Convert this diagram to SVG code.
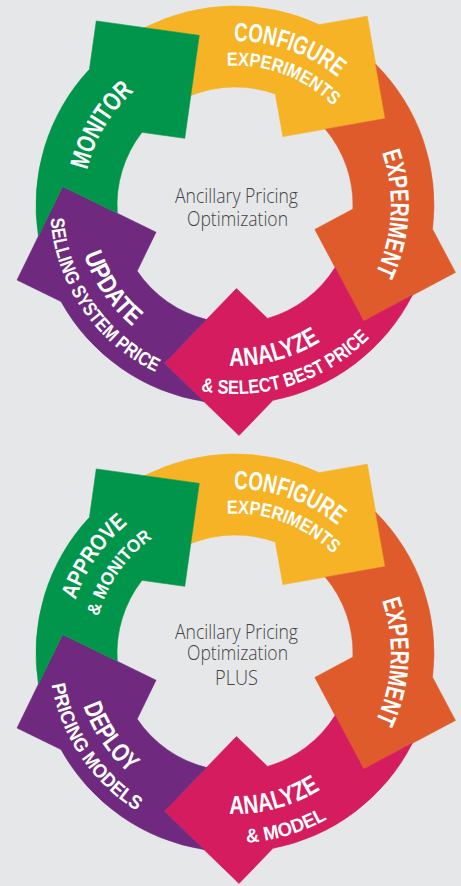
<svg xmlns="http://www.w3.org/2000/svg" xmlns:xlink="http://www.w3.org/1999/xlink" width="461" height="886" viewBox="0 0 461 886">
<style>
.bg{fill:#E6E7E8}
.seg{stroke-width:0.6;stroke-linejoin:round}
.yel{fill:#F5B325;stroke:#F5B325}
.org{fill:#E05B2B;stroke:#E05B2B}
.mag{fill:#D41C5E;stroke:#D41C5E}
.pur{fill:#6F2A7F;stroke:#6F2A7F}
.grn{fill:#00954A;stroke:#00954A}
.lbl{font-family:"Liberation Sans",Arial,sans-serif;font-weight:bold;fill:#FFFFFF}
.ctr{font-family:"Open Sans","Liberation Sans",sans-serif;font-weight:300;fill:#444446;text-anchor:middle;font-size:19.5px}
</style>
<defs>
<path id="p-conf" d="M -127.08 -103.64 A 164 164 0 0 1 163.98 -2.29"/>
<path id="p-exps" d="M -105.75 -90.97 A 139.5 139.5 0 0 1 139.49 1.71"/>
<path id="p-exp" d="M 61.20 -143.49 A 156 156 0 0 1 45.35 149.26"/>
<path id="p-ana" d="M -131.88 92.35 A 161 161 0 0 0 160.38 14.03"/>
<path id="p-sel" d="M -149.95 115.06 A 189 189 0 0 0 188.82 8.25"/>
<path id="p-upd" d="M -128.63 -93.46 A 159 159 0 0 0 38.47 154.28"/>
<path id="p-sell" d="M -150.43 -107.69 A 185 185 0 0 0 46.01 179.19"/>
<path id="p-mon" d="M -117.78 96.06 A 152 152 0 0 1 28.48 -149.31"/>
<path id="p-mod" d="M -153.22 112.35 A 190 190 0 0 0 189.60 12.43"/>
<path id="p-app" d="M -136.52 97.93 A 168 168 0 0 1 41.63 -162.76"/>
<path id="p-amon" d="M -115.33 81.97 A 141.5 141.5 0 0 1 35.67 -136.93"/>
<path id="p-dep" d="M -129.68 -94.56 A 160.5 160.5 0 0 0 38.55 155.80"/>
<path id="p-pm" d="M -150.29 -109.59 A 186 186 0 0 0 44.68 180.55"/>
<path id="s-yel" transform="rotate(-1)" d="M -87.24 -178.86 A 199 199 0 0 1 87.24 -178.86 L 135.49 -186.47 L 151.75 -83.80 L 49.08 -67.55 L 42.29 -110.16 A 118 118 0 0 0 -42.29 -110.16 L -32.81 -170.21 Z"/>
<path id="s-org" transform="rotate(-1)" d="M 143.14 -138.25 A 199 199 0 0 1 197.07 27.70 L 219.23 71.22 L 126.60 118.41 L 79.42 25.80 L 117.83 6.17 A 118 118 0 0 0 91.70 -74.26 L 151.75 -83.80 Z"/>
<path id="s-mag" transform="rotate(-1)" d="M 175.70 93.43 A 199 199 0 0 1 34.55 195.98 L 0 230.5 L -73.52 156.99 L 0 83.5 L 30.54 113.98 A 118 118 0 0 0 98.97 64.26 L 126.60 118.41 Z"/>
<path id="s-pur" transform="rotate(-1)" d="M -34.55 195.98 A 199 199 0 0 1 -175.70 93.43 L -219.23 71.22 L -172.03 -21.39 L -79.42 25.80 L -98.97 64.26 A 118 118 0 0 0 -30.54 113.98 L -73.52 156.99 Z"/>
<path id="s-grn" transform="rotate(-1)" d="M -197.07 27.70 A 199 199 0 0 1 -143.14 -138.25 L -135.49 -186.47 L -32.81 -170.21 L -49.08 -67.55 L -91.70 -74.26 A 118 118 0 0 0 -117.83 6.17 L -172.03 -21.39 Z"/>
</defs>
<rect class="bg" x="0" y="0" width="461" height="886"/>

<g id="cycle-1" transform="translate(235,205)">
  <g id="node-configure-1">
    <use href="#s-yel" class="seg yel"/>
    <text class="lbl" font-size="26"><textPath href="#p-conf" startOffset="50%" text-anchor="middle" textLength="112" lengthAdjust="spacingAndGlyphs">CONFIGURE</textPath></text>
    <text class="lbl" font-size="19"><textPath href="#p-exps" startOffset="50%" text-anchor="middle" textLength="117" lengthAdjust="spacingAndGlyphs">EXPERIMENTS</textPath></text>
  </g>
  <g id="node-experiment-1">
    <use href="#s-org" class="seg org"/>
    <text class="lbl" font-size="26"><textPath href="#p-exp" startOffset="50%" text-anchor="middle" textLength="124" lengthAdjust="spacingAndGlyphs">EXPERIMENT</textPath></text>
  </g>
  <g id="node-analyze-1">
    <use href="#s-mag" class="seg mag"/>
    <text class="lbl" font-size="26"><textPath href="#p-ana" startOffset="50%" text-anchor="middle" textLength="96" lengthAdjust="spacingAndGlyphs">ANALYZE</textPath></text>
    <text class="lbl" font-size="19.5"><textPath href="#p-sel" startOffset="50%" text-anchor="middle" textLength="184" lengthAdjust="spacingAndGlyphs">&amp; SELECT BEST PRICE</textPath></text>
  </g>
  <g id="node-update-1">
    <use href="#s-pur" class="seg pur"/>
    <text class="lbl" font-size="26"><textPath href="#p-upd" startOffset="50%" text-anchor="middle" textLength="88" lengthAdjust="spacingAndGlyphs">UPDATE</textPath></text>
    <text class="lbl" font-size="19.5"><textPath href="#p-sell" startOffset="50%" text-anchor="middle" textLength="195" lengthAdjust="spacingAndGlyphs">SELLING SYSTEM PRICE</textPath></text>
  </g>
  <g id="node-monitor-1">
    <use href="#s-grn" class="seg grn"/>
    <text class="lbl" font-size="26"><textPath href="#p-mon" startOffset="50%" text-anchor="middle" textLength="93" lengthAdjust="spacingAndGlyphs">MONITOR</textPath></text>
  </g>
  <g id="center-1">
    <text class="ctr" x="1.5" y="-2" textLength="123" lengthAdjust="spacingAndGlyphs">Ancillary Pricing</text>
    <text class="ctr" x="2.5" y="21" textLength="101" lengthAdjust="spacingAndGlyphs">Optimization</text>
  </g>
</g>

<g id="cycle-2" transform="translate(235,653)">
  <g id="node-configure-2">
    <use href="#s-yel" class="seg yel"/>
    <text class="lbl" font-size="26"><textPath href="#p-conf" startOffset="50%" text-anchor="middle" textLength="112" lengthAdjust="spacingAndGlyphs">CONFIGURE</textPath></text>
    <text class="lbl" font-size="19"><textPath href="#p-exps" startOffset="50%" text-anchor="middle" textLength="117" lengthAdjust="spacingAndGlyphs">EXPERIMENTS</textPath></text>
  </g>
  <g id="node-experiment-2">
    <use href="#s-org" class="seg org"/>
    <text class="lbl" font-size="26"><textPath href="#p-exp" startOffset="50%" text-anchor="middle" textLength="124" lengthAdjust="spacingAndGlyphs">EXPERIMENT</textPath></text>
  </g>
  <g id="node-analyze-2">
    <use href="#s-mag" class="seg mag"/>
    <text class="lbl" font-size="26"><textPath href="#p-ana" startOffset="50%" text-anchor="middle" textLength="96" lengthAdjust="spacingAndGlyphs">ANALYZE</textPath></text>
    <text class="lbl" font-size="19.5"><textPath href="#p-mod" startOffset="50%" text-anchor="middle" textLength="85" lengthAdjust="spacingAndGlyphs">&amp; MODEL</textPath></text>
  </g>
  <g id="node-deploy-2">
    <use href="#s-pur" class="seg pur"/>
    <text class="lbl" font-size="26"><textPath href="#p-dep" startOffset="50%" text-anchor="middle" textLength="82" lengthAdjust="spacingAndGlyphs">DEPLOY</textPath></text>
    <text class="lbl" font-size="19.5"><textPath href="#p-pm" startOffset="50%" text-anchor="middle" textLength="157" lengthAdjust="spacingAndGlyphs">PRICING MODELS</textPath></text>
  </g>
  <g id="node-approve-2">
    <use href="#s-grn" class="seg grn"/>
    <text class="lbl" font-size="23"><textPath href="#p-app" startOffset="50%" text-anchor="middle" textLength="94" lengthAdjust="spacingAndGlyphs">APPROVE</textPath></text>
    <text class="lbl" font-size="18"><textPath href="#p-amon" startOffset="50%" text-anchor="middle" textLength="97" lengthAdjust="spacingAndGlyphs">&amp; MONITOR</textPath></text>
  </g>
  <g id="center-2">
    <text class="ctr" x="1.5" y="-14" textLength="123" lengthAdjust="spacingAndGlyphs">Ancillary Pricing</text>
    <text class="ctr" x="2.5" y="7" textLength="101" lengthAdjust="spacingAndGlyphs">Optimization</text>
    <text class="ctr" x="1.5" y="32" textLength="43" lengthAdjust="spacingAndGlyphs">PLUS</text>
  </g>
</g>
</svg>
